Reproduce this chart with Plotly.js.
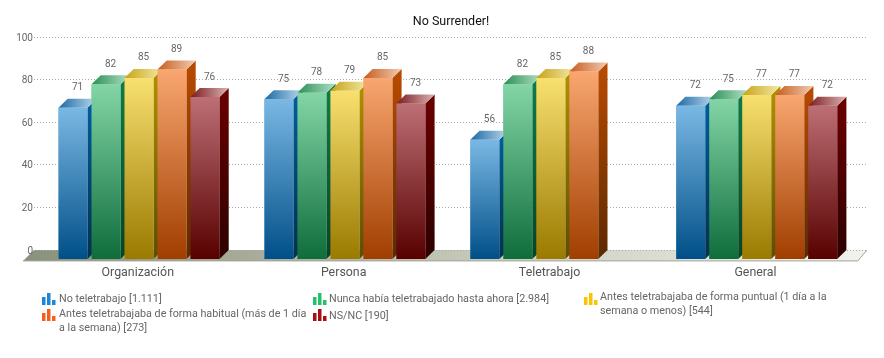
<!DOCTYPE html>
<html><head><meta charset="utf-8">
<script src="https://cdn.plot.ly/plotly-3.0.1.min.js"></script>
<style>html,body{margin:0;padding:0;background:#fff}#c{width:884px;height:358px;filter:blur(0.35px)}</style>
</head><body><div id="c"></div><script>
const categories = ["Organización","Persona","Teletrabajo","General"];
const noTele = [71,75,56,72];
const nunca = [82,78,82,75];
const puntual = [85,79,85,77];
const habitual = [89,85,88,77];
const nsnc = [76,73,null,72];
const yTicks = [0,20,40,60,80,100];
const seriesNames = ["No teletrabajo [1.111]","Nunca había teletrabajado hasta ahora [2.984]","Antes teletrabajaba de forma puntual (1 día a la<br>semana o menos) [544]","Antes teletrabajaba de forma habitual (más de 1 día<br>a la semana) [273]","NS/NC [190]"];
const seriesValues = [noTele,nunca,puntual,habitual,nsnc];
const palette = [
 {f:["#004f88","#7ab8e4"],s:["#00304f","#005f9e"],t:["#1c69a3","#bcd9ee"],k:"#1b87d6"},
 {f:["#0e6d3b","#84d5a6"],s:["#084326","#0f7d46"],t:["#2b8f56","#aee0c4"],k:"#27c06a"},
 {f:["#9a7a00","#f8e070"],s:["#5c4d00","#b29200"],t:["#c7a31a","#f3eaa4"],k:"#f7c600"},
 {f:["#a03e00","#f9a670"],s:["#5c2900","#ba4b00"],t:["#c65d20","#f3cbb0"],k:"#f4601c"},
 {f:["#580000","#bd6f75"],s:["#2c0000","#6c0000"],t:["#7b1b20","#d9b3b3"],k:"#a80f14"}
];
const W=884,H=358,L0=23,L=34,R=867,T=30,B=263;
const unitX=205.9,unitY=2.13,cx=139;
const xMin=(L-cx)/unitX,xMax=(R-cx)/unitX,xMinF=(L0-cx)/unitX;
const yMin=(250-B)/unitY,yMax=(250-T)/unitY;
const dx=9.2/unitX,dy=9/unitY;
const slot=33/unitX,barW=29/unitX;
const data=[];
// floor (lower subplot, reaching past the value axis)
const fb=-dy-0.9;
data.push({type:'scatter',mode:'lines',xaxis:'x',yaxis:'y',x:[xMin,xMax,xMax-dx,xMinF,xMin],y:[0,0,fb,fb,0],fill:'toself',
 line:{width:0,color:'rgba(0,0,0,0)'},fillgradient:{type:'horizontal',colorscale:[[0,'#8a917b'],[0.3,'#a9af9c'],[0.6,'#cbd0c0'],[1,'#f1f3ec']]},
 hoverinfo:'skip',showlegend:false});
data.push({type:'scatter',mode:'lines',xaxis:'x',yaxis:'y',x:[xMinF,xMax-dx,xMax],y:[fb,fb,0],line:{width:1,color:'#a2a498'},hoverinfo:'skip',showlegend:false});
// genuine bars
seriesValues.forEach((v,i)=>data.push({type:'bar',xaxis:'x2',yaxis:'y2',name:seriesNames[i],x:categories.map((_,k)=>k),y:v,base:v.map(()=>-dy),
 marker:{color:palette[i].f[1]},showlegend:false,hoverinfo:'y'}));
// faces
const poly=(xs,ys,cols,type)=>data.push({type:'scatter',mode:'lines',xaxis:'x2',yaxis:'y2',x:xs,y:ys,fill:'toself',line:{width:0,color:'rgba(0,0,0,0)'},
 fillgradient:{type:type,colorscale:[[0,cols[0]],[1,cols[1]]]},hoverinfo:'skip',showlegend:false});
categories.forEach((_,k)=>{
 seriesValues.forEach((v,i)=>{
  const val=v[k]; if(val==null) return;
  const x0=k+(i-2)*slot-barW/2,x1=x0+barW,y0=-dy,y1=val-dy;
  const p=palette[i];
  poly([x1,x1+dx,x1+dx,x1,x1],[y0,0,val,y1,y0],p.s,'vertical');
  poly([x0,x1,x1+dx,x0+dx,x0],[y1,y1,val,val,y1],p.t,'horizontal');
  poly([x0,x1,x1,x0,x0],[y0,y0,y1,y1,y0],p.f,'vertical');
 });
});
// value labels
seriesValues.forEach((v,i)=>{
 data.push({type:'scatter',mode:'text',xaxis:'x2',yaxis:'y2',x:categories.map((_,k)=>k+(i-2)*slot+dx/2),y:v.map(a=>a==null?null:a+5.2),text:v.map(a=>a==null?'':String(a)),
  textposition:'middle center',textfont:{family:'Roboto',size:10,color:'#666',shadow:'0 0 2px #fff, 0 0 2px #fff, 0 0 2px #fff'},cliponaxis:false,hoverinfo:'skip',showlegend:false});
});
const px=x=>(x-L0)/(R-L0), py=y=>1-(y-T)/(B-T);
const shapes=[],annotations=[];
const legend=[[42,293,59,298],[313,293,329,298],[584,293,600,303],[42,309,59,320.5],[313,309,329,315]];
legend.forEach((l,i)=>{
 const [ix,iy,tx,ty]=l;
 [[0,3.5,4],[5,3.5,0],[10,3.5,7]].forEach(b=>{
  shapes.push({type:'rect',xref:'paper',yref:'paper',x0:px(ix+b[0]),x1:px(ix+b[0]+b[1]),y0:py(iy+12),y1:py(iy+b[2]),fillcolor:palette[i].k,line:{width:0},layer:'above'});
 });
 annotations.push({xref:'paper',yref:'paper',x:px(tx),y:py(ty),xanchor:'left',yanchor:'middle',align:'left',showarrow:false,text:seriesNames[i],
  font:{family:'Roboto',size:10.75,color:'#666'},borderpad:0,borderwidth:0});
});
Plotly.newPlot('c',data,{
 width:W,height:H,autosize:false,paper_bgcolor:'#fff',plot_bgcolor:'rgba(0,0,0,0)',
 margin:{l:L0,r:W-R,t:T,b:H-B,pad:0},showlegend:false,
 barmode:'group',bargap:1-5*slot,bargroupgap:1-barW/slot,
 title:{text:'No Surrender!',x:451/W,xanchor:'center',y:1-21/H,yanchor:'middle',font:{family:'Roboto',size:12.5,color:'#111',weight:400}},
 font:{family:'Roboto'},
 xaxis:{domain:[0,1],range:[xMinF,xMax],visible:false,fixedrange:true},
 yaxis:{domain:[0,1],range:[yMin,yMax],visible:false,fixedrange:true},
 xaxis2:{anchor:'y2',domain:[(L-L0)/(R-L0),1],type:'linear',range:[xMin,xMax],tickmode:'array',tickvals:categories.map((_,k)=>k-0.006),ticktext:categories,showgrid:false,zeroline:false,showline:false,ticks:'',
  tickfont:{family:'Roboto',size:12.4,color:'#555'},fixedrange:true},
 yaxis2:{anchor:'x2',domain:[0,1],range:[yMin,yMax],tickmode:'array',tickvals:yTicks,showgrid:true,gridcolor:'#aaa',griddash:'1px,2px',gridwidth:1,zeroline:false,showline:false,ticks:'',
  tickfont:{family:'Roboto',size:10,color:'#666'},fixedrange:true},
 shapes,annotations
},{displayModeBar:false});
</script></body></html>
